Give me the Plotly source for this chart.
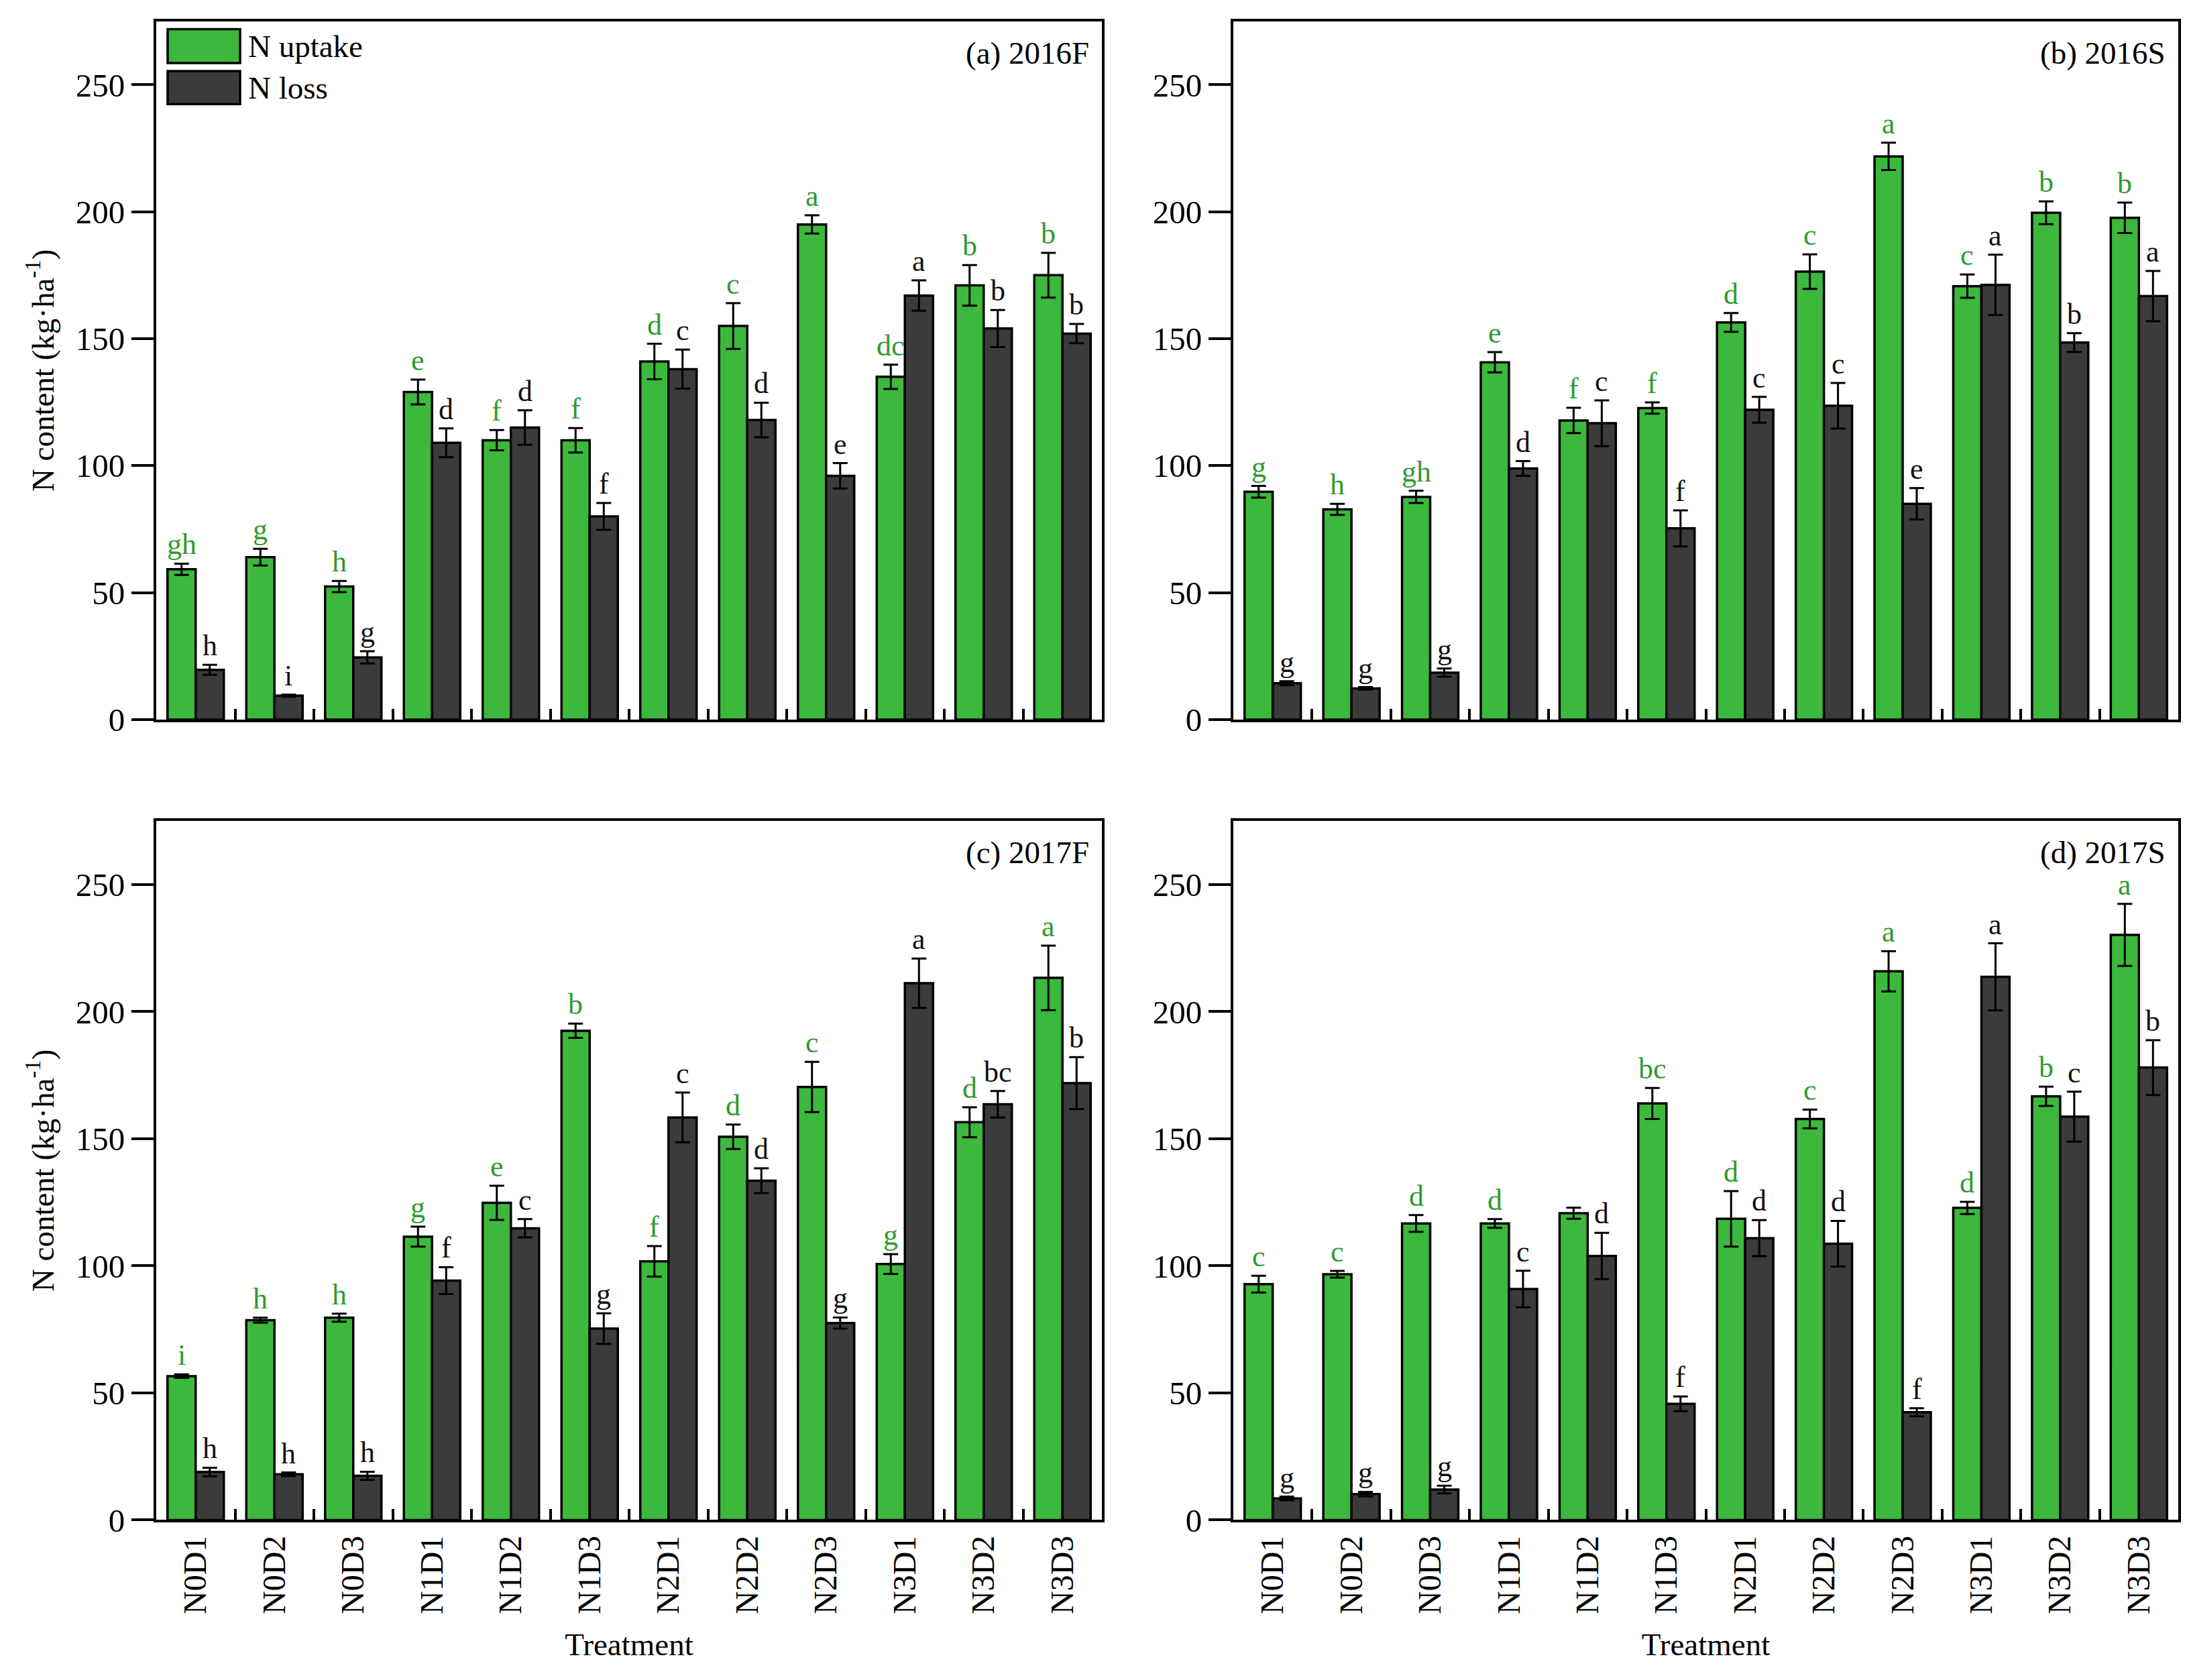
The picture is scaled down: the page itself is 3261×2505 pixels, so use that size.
import plotly.graph_objects as go

categories = ["N0D1", "N0D2", "N0D3", "N1D1", "N1D2", "N1D3",
              "N2D1", "N2D2", "N2D3", "N3D1", "N3D2", "N3D3"]
y_ticks = [0, 50, 100, 150, 200, 250]

# (a) 2016F
uptake_2016F = [59.2, 64.0, 52.4, 129.0, 110.0, 110.0, 141.0, 155.0, 195.0, 135.0, 171.0, 175.0]
uptake_err_2016F = [2.2, 3.3, 2.2, 4.9, 4.0, 4.8, 7.0, 9.0, 3.6, 4.8, 8.0, 8.8]
loss_2016F = [19.6, 9.4, 24.5, 109.0, 115.0, 80.0, 138.0, 118.0, 96.0, 167.0, 154.0, 152.0]
loss_err_2016F = [2.0, 0.4, 2.4, 5.7, 6.8, 5.3, 7.7, 6.8, 5.0, 6.0, 7.3, 3.8]
uptake_letters_2016F = ["gh", "g", "h", "e", "f", "f", "d", "c", "a", "dc", "b", "b"]
loss_letters_2016F = ["h", "i", "g", "d", "d", "f", "c", "d", "e", "a", "b", "b"]

# (b) 2016S
uptake_2016S = [89.7, 82.8, 87.7, 140.7, 117.8, 122.7, 156.4, 176.4, 221.8, 170.7, 199.6, 197.6]
uptake_err_2016S = [2.3, 2.2, 2.4, 4.0, 5.0, 2.2, 3.7, 6.8, 5.4, 4.6, 4.5, 6.0]
loss_2016S = [14.3, 12.3, 18.5, 98.9, 116.7, 75.3, 122.0, 123.6, 85.0, 171.2, 148.5, 166.8]
loss_err_2016S = [0.8, 0.5, 1.6, 2.9, 9.0, 7.1, 5.1, 9.0, 6.2, 11.9, 3.7, 9.9]
uptake_letters_2016S = ["g", "h", "gh", "e", "f", "f", "d", "c", "a", "c", "b", "b"]
loss_letters_2016S = ["g", "g", "g", "d", "c", "f", "c", "c", "e", "a", "b", "a"]

# (c) 2017F
uptake_2017F = [56.6, 78.6, 79.6, 111.5, 124.8, 192.5, 101.8, 150.8, 170.4, 100.7, 156.5, 213.3]
uptake_err_2017F = [0.7, 1.0, 1.6, 3.9, 6.7, 2.8, 6.0, 4.8, 9.9, 3.9, 5.9, 12.7]
loss_2017F = [18.9, 18.0, 17.4, 94.2, 114.8, 75.3, 158.4, 133.5, 77.5, 211.2, 163.6, 171.9]
loss_err_2017F = [1.7, 0.7, 1.6, 5.3, 3.6, 6.0, 9.8, 4.9, 2.2, 9.7, 5.2, 10.2]
uptake_letters_2017F = ["i", "h", "h", "g", "e", "b", "f", "d", "c", "g", "d", "a"]
loss_letters_2017F = ["h", "h", "h", "f", "c", "g", "c", "d", "g", "a", "bc", "b"]

# (d) 2017S
uptake_2017S = [92.8, 96.7, 116.7, 116.7, 120.7, 163.9, 118.5, 157.8, 215.9, 122.8, 166.7, 230.2]
uptake_err_2017S = [3.3, 1.3, 3.3, 1.7, 2.2, 6.1, 10.9, 3.7, 7.9, 2.4, 3.8, 12.2]
loss_2017S = [8.5, 10.2, 12.0, 90.9, 103.9, 45.7, 110.9, 108.7, 42.4, 213.7, 158.7, 178.0]
loss_err_2017S = [0.7, 0.9, 1.5, 7.2, 9.1, 2.9, 7.1, 9.0, 1.6, 13.2, 9.8, 10.8]
uptake_letters_2017S = ["c", "c", "d", "d", "", "bc", "d", "c", "a", "d", "b", "a"]
loss_letters_2017S = ["g", "g", "g", "c", "d", "f", "d", "d", "f", "a", "c", "b"]

panel_titles = ["(a) 2016F", "(b) 2016S", "(c) 2017F", "(d) 2017S"]
series_names = ["N uptake", "N loss"]

panels = [
    (uptake_2016F, uptake_err_2016F, loss_2016F, loss_err_2016F, uptake_letters_2016F, loss_letters_2016F),
    (uptake_2016S, uptake_err_2016S, loss_2016S, loss_err_2016S, uptake_letters_2016S, loss_letters_2016S),
    (uptake_2017F, uptake_err_2017F, loss_2017F, loss_err_2017F, uptake_letters_2017F, loss_letters_2017F),
    (uptake_2017S, uptake_err_2017S, loss_2017S, loss_err_2017S, uptake_letters_2017S, loss_letters_2017S),
]

GREEN = "#3cb83c"
DARK = "#3b3b3b"
GREEN_TXT = "#2f9a2f"
FONT = "Liberation Serif"
W, H = 3261, 2505

x_domains = [[225 / W, 1635 / W], [1831 / W, 3240 / W]]
y_domains = [[1 - 1077 / H, 1 - 24 / H], [1 - 2284 / H, 1 - 1230 / H]]

BARGAP = 0.285
half = (1 - BARGAP) / 4.0  # offset of each bar centre from category centre

fig = go.Figure()
annotations = []

for p, (up, up_e, lo, lo_e, up_l, lo_l) in enumerate(panels):
    idx = "" if p == 0 else str(p + 1)
    xref = "x" + idx
    yref = "y" + idx
    fig.add_trace(go.Bar(
        x=categories, y=up, name=series_names[0], xaxis=xref, yaxis=yref,
        marker=dict(color=GREEN, line=dict(color="black", width=3.5)),
        error_y=dict(type="data", array=up_e, color="black", thickness=3, width=11),
        showlegend=False,
    ))
    fig.add_trace(go.Bar(
        x=categories, y=lo, name=series_names[1], xaxis=xref, yaxis=yref,
        marker=dict(color=DARK, line=dict(color="black", width=3.5)),
        error_y=dict(type="data", array=lo_e, color="black", thickness=3, width=11),
        showlegend=False,
    ))
    for i in range(len(categories)):
        if up_l[i]:
            annotations.append(dict(
                x=i - half, y=up[i] + up_e[i], xref=xref, yref=yref,
                text=up_l[i], showarrow=False, yanchor="bottom", xanchor="center",
                yshift=2, font=dict(family=FONT, size=44, color=GREEN_TXT)))
        if lo_l[i]:
            annotations.append(dict(
                x=i + half, y=lo[i] + lo_e[i], xref=xref, yref=yref,
                text=lo_l[i], showarrow=False, yanchor="bottom", xanchor="center",
                yshift=2, font=dict(family=FONT, size=44, color="#111111")))
    annotations.append(dict(
        x=0.988, y=0.955, xref=xref + " domain", yref=yref + " domain",
        text=panel_titles[p], showarrow=False, xanchor="right", yanchor="middle",
        font=dict(family=FONT, size=47, color="black")))

    col = p % 2
    row = p // 2
    xaxis = dict(
        domain=x_domains[col], anchor=yref, type="category", range=[-0.5, 11.5],
        showline=True, linewidth=4, linecolor="black", mirror=True,
        ticks="inside", tickson="boundaries", ticklen=16, tickwidth=4, tickcolor="black",
        tickangle=-90, showticklabels=(row == 1), showgrid=False, zeroline=False,
        tickfont=dict(family=FONT, size=48, color="black"),
    )
    if row == 1:
        xaxis["title"] = dict(text="Treatment", font=dict(family=FONT, size=47, color="black"), standoff=30)
    yaxis = dict(
        domain=y_domains[row], anchor=xref, range=[0, 275], tickvals=y_ticks,
        showline=True, linewidth=4, linecolor="black", mirror=True,
        ticks="outside", ticklen=33, tickwidth=4, tickcolor="black",
        showgrid=False, zeroline=False,
        tickfont=dict(family=FONT, size=49, color="black"),
    )
    if col == 0:
        yaxis["title"] = dict(text="N content (kg·ha<sup>-1</sup>)",
                              font=dict(family=FONT, size=47, color="black"), standoff=18)
    fig.layout["xaxis" + idx] = xaxis
    fig.layout["yaxis" + idx] = yaxis

# manual legend in panel (a)
legend_colors = [GREEN, DARK]
legend_rows = [(36, 87), (99, 149)]
shapes = []
for k, (top, bot) in enumerate(legend_rows):
    shapes.append(dict(type="rect", xref="paper", yref="paper",
                       x0=242 / W, x1=350 / W, y0=1 - bot / H, y1=1 - top / H,
                       fillcolor=legend_colors[k], line=dict(color="black", width=3.5)))
    annotations.append(dict(x=360 / W, y=1 - (top + bot) / 2 / H, xref="paper", yref="paper",
                            text=series_names[k], showarrow=False, xanchor="left", yanchor="middle",
                            font=dict(family=FONT, size=47, color="black")))

fig.update_layout(
    width=W, height=H, barmode="group", bargap=BARGAP, bargroupgap=0,
    paper_bgcolor="white", plot_bgcolor="white",
    margin=dict(l=0, r=0, t=0, b=0),
    annotations=annotations, shapes=shapes,
    font=dict(family=FONT, color="black"),
)

fig.write_html("out.html")
